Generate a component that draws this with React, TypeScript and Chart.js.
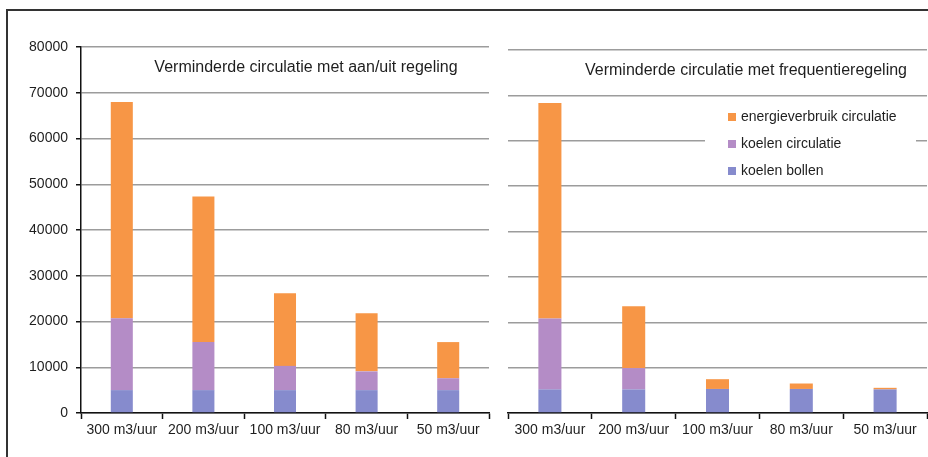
import React, { useEffect, useRef } from "react";
import { Chart, registerables } from "chart.js";

Chart.register(...registerables);

const categories = ["300 m3/uur", "200 m3/uur", "100 m3/uur", "80 m3/uur", "50 m3/uur"];
const seriesLabels = ["koelen bollen", "koelen circulatie", "energieverbruik circulatie"];
const seriesColors = ["#868bcd", "#b48cc6", "#f79646"];

// Verminderde circulatie met aan/uit regeling
const aanUitBollen = [5000, 5000, 5000, 5000, 5000];
const aanUitCirculatie = [15700, 10500, 5300, 4100, 2600];
const aanUitEnergie = [47300, 31800, 15850, 12700, 7900];

// Verminderde circulatie met frequentieregeling
const freqBollen = [5200, 5200, 5300, 5300, 5200];
const freqCirculatie = [15600, 4700, 0, 0, 0];
const freqEnergie = [47500, 13600, 2150, 1200, 350];

const yTicks = [0, 10000, 20000, 30000, 40000, 50000, 60000, 70000, 80000];

const titleLeft = "Verminderde circulatie met aan/uit regeling";
const titleRight = "Verminderde circulatie met frequentieregeling";

const FONT = "'Liberation Sans', Arial, sans-serif";
const TEXT = "#1e1e1e";

const innerTitle = {
  id: "innerTitle",
  afterDraw(chart: any, _args: any, opts: any) {
    if (!opts || !opts.text) return;
    const ctx = chart.ctx;
    ctx.save();
    ctx.font = `16px ${FONT}`;
    ctx.fillStyle = TEXT;
    ctx.textAlign = "center";
    ctx.textBaseline = "middle";
    ctx.fillText(opts.text, opts.x, opts.y);
    ctx.restore();
  },
};

const boxLegend = {
  id: "boxLegend",
  afterDraw(chart: any, _args: any, opts: any) {
    if (!opts || !opts.show) return;
    const ctx = chart.ctx;
    ctx.save();
    ctx.fillStyle = "#ffffff";
    ctx.fillRect(opts.boxX, opts.boxY, opts.boxW, opts.boxH);
    const ds = chart.data.datasets.slice().reverse();
    ctx.font = `14px ${FONT}`;
    ctx.textBaseline = "middle";
    ctx.textAlign = "left";
    ds.forEach((d: any, i: number) => {
      const y = opts.firstY + i * opts.gap;
      ctx.fillStyle = d.backgroundColor;
      ctx.fillRect(opts.markX, y - 4, 8, 8);
      ctx.fillStyle = TEXT;
      ctx.fillText(d.label, opts.markX + 13, y);
    });
    ctx.restore();
  },
};

function makeConfig(
  bollen: number[],
  circ: number[],
  energie: number[],
  showYLabels: boolean,
  yWidth: number,
  padTop: number,
  padRight: number,
  barPct: number,
  title: any,
  legend: any
): any {
  const values = [bollen, circ, energie];
  return {
    type: "bar",
    data: {
      labels: categories,
      datasets: values.map((v, i) => ({
        label: seriesLabels[i],
        data: v,
        backgroundColor: seriesColors[i],
        borderWidth: 0,
        categoryPercentage: 1,
        barPercentage: barPct,
      })),
    },
    options: {
      responsive: false,
      animation: false,
      layout: { padding: { top: padTop, right: padRight, left: 0, bottom: 0 } },
      plugins: {
        legend: { display: false },
        tooltip: { enabled: false },
        title: { display: false },
        innerTitle: title,
        boxLegend: legend,
      },
      scales: {
        x: {
          stacked: true,
          grid: {
            offset: true,
            drawOnChartArea: false,
            drawTicks: true,
            tickLength: 6,
            tickColor: "#111",
            tickWidth: 1.5,
          },
          border: { display: true, color: "#111", width: 1.5 },
          ticks: {
            color: TEXT,
            font: { family: FONT, size: 14 },
            padding: 3,
            maxRotation: 0,
            autoSkip: false,
          },
          afterFit: (s: any) => {
            s.height = 44;
          },
        },
        y: {
          stacked: true,
          min: 0,
          max: 80000,
          afterBuildTicks: (s: any) => {
            s.ticks = yTicks.map((v) => ({ value: v }));
          },
          grid: {
            color: "#9c9c9c",
            lineWidth: 1.5,
            drawTicks: showYLabels,
            tickLength: 5,
            tickColor: "#111",
            tickWidth: 1.5,
          },
          border: { display: showYLabels, color: "#111", width: 1.5 },
          ticks: {
            display: showYLabels,
            color: TEXT,
            font: { family: FONT, size: 14 },
            padding: 8,
            callback: (v: any) => String(v),
          },
          afterFit: (s: any) => {
            s.width = yWidth;
          },
        },
      },
    },
    plugins: [innerTitle, boxLegend],
  };
}

export default function App() {
  const leftRef = useRef<HTMLCanvasElement | null>(null);
  const rightRef = useRef<HTMLCanvasElement | null>(null);

  useEffect(() => {
    const left = new Chart(
      leftRef.current as HTMLCanvasElement,
      makeConfig(
        aanUitBollen,
        aanUitCirculatie,
        aanUitEnergie,
        true,
        81,
        47,
        6,
        0.27,
        { text: titleLeft, x: 306, y: 68 },
        { show: false }
      )
    );
    const right = new Chart(
      rightRef.current as HTMLCanvasElement,
      makeConfig(
        freqBollen,
        freqCirculatie,
        freqEnergie,
        false,
        13,
        50,
        1,
        0.275,
        { text: titleRight, x: 251, y: 71 },
        { show: true, boxX: 210, boxY: 100, boxW: 211, boxH: 83, markX: 233, firstY: 117, gap: 27 }
      )
    );
    return () => {
      left.destroy();
      right.destroy();
    };
  }, []);

  return (
    <div
      style={{
        position: "absolute",
        left: 0,
        top: 0,
        width: 928,
        height: 457,
        overflow: "hidden",
        background: "#ffffff",
      }}
    >
      <div
        style={{
          position: "absolute",
          left: 6,
          top: 9,
          right: -20,
          bottom: -20,
          border: "2px solid #333",
        }}
      />
      <canvas
        ref={leftRef}
        width={495}
        height={457}
        style={{ position: "absolute", left: 0, top: 0, width: 495, height: 457 }}
      />
      <canvas
        ref={rightRef}
        width={433}
        height={457}
        style={{ position: "absolute", left: 495, top: 0, width: 433, height: 457 }}
      />
    </div>
  );
}
